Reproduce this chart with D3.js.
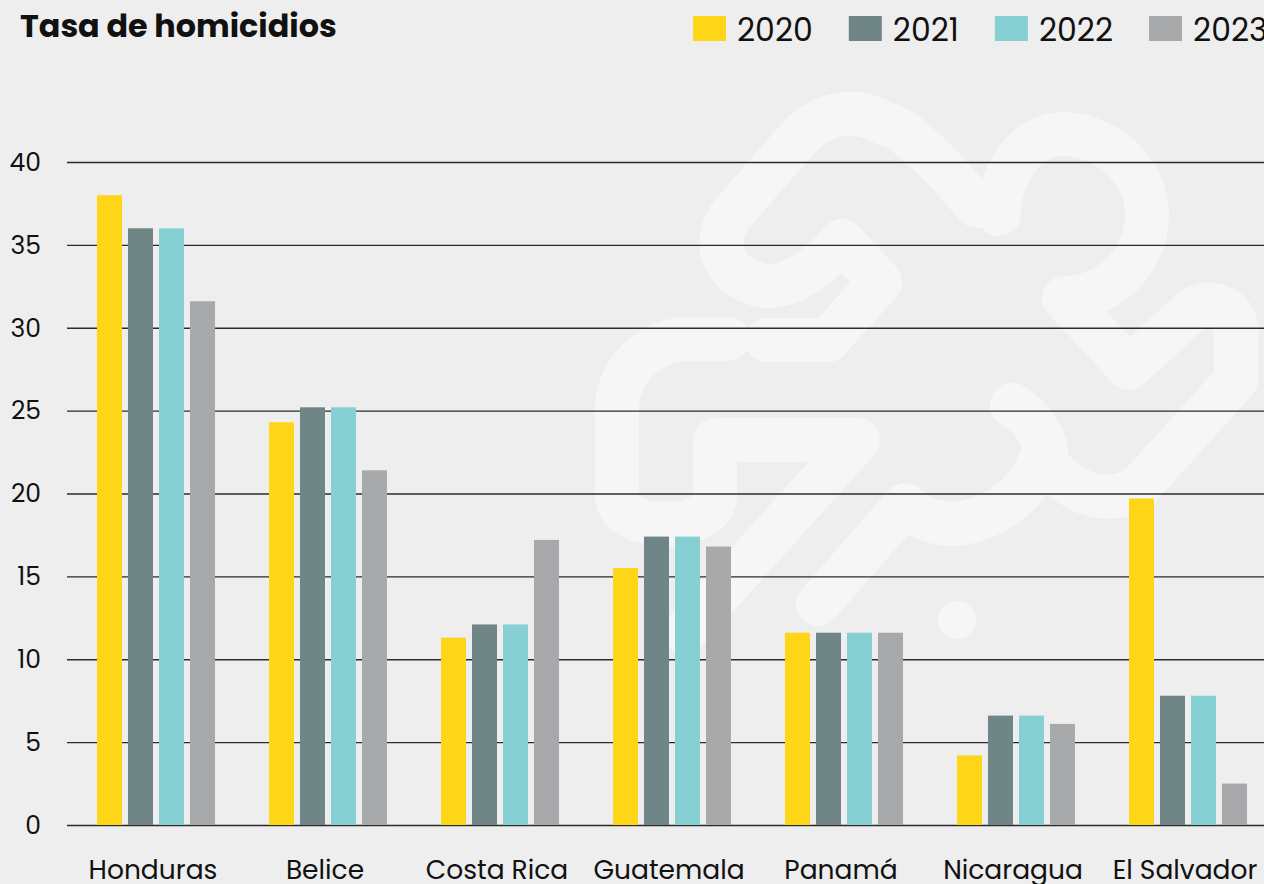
<!DOCTYPE html>
<html>
<head>
<meta charset="utf-8">
<script src="https://cdn.jsdelivr.net/npm/d3@7"></script>
<style>
  html, body { margin: 0; padding: 0; background: #eeeeee; overflow: hidden; }
  svg { display: block; }
</style>
</head>
<body>
<div id="chart"></div>
<script>
// data
const countries = ["Honduras", "Belice", "Costa Rica", "Guatemala", "Panamá", "Nicaragua", "El Salvador"];
const years = ["2020", "2021", "2022", "2023"];
const values2020 = [38.0, 24.3, 11.3, 15.5, 11.6, 4.2, 19.7];
const values2021 = [36.0, 25.2, 12.1, 17.4, 11.6, 6.6, 7.8];
const values2022 = [36.0, 25.2, 12.1, 17.4, 11.6, 6.6, 7.8];
const values2023 = [31.6, 21.4, 17.2, 16.8, 11.6, 6.1, 2.5];
const yTicks = [0, 5, 10, 15, 20, 25, 30, 35, 40];
const colors = ["#FFD617", "#6F8586", "#86D0D4", "#A8A9AB"];

const series = [values2020, values2021, values2022, values2023];
const data = countries.map((c, i) => {
    const row = { country: c };
    years.forEach((y, j) => row[y] = series[j][i]);
    return row;
});

const W = 1264, H = 884;
const font = "Poppins, 'Open Sans', sans-serif";

const svg = d3.select("#chart").append("svg")
    .attr("width", W)
    .attr("height", H);

svg.append("rect").attr("width", W).attr("height", H).attr("fill", "#eeeeee");

// faint logo watermark in the background
const wm = svg.append("g")
    .attr("fill", "none")
    .attr("stroke", "#f6f6f6")
    .attr("stroke-width", 44)
    .attr("stroke-linecap", "round")
    .attr("stroke-linejoin", "round");
const wmPaths = [
    "M977,206 C950,175 905,125 885,124 C860,108 825,110 800,136 L732,214 C712,240 720,275 760,285 C790,292 820,265 842,241 L880,282 L828,340 L767,340",
    "M999,214 C999,170 1030,134 1062,134 C1105,134 1147,170 1147,214 C1147,260 1110,298 1064,298 L1129,368 L1190,312 C1210,295 1240,310 1236,335 L1236,380 L1140,486 C1105,510 1070,490 1046,463 C1050,440 1030,415 1012,405",
    "M728,339 L689,339 C650,339 617,370 617,410 L617,495 C617,515 640,524 667,524 C690,524 715,515 715,495 L715,440 L858,440 L685,632",
    "M818,604 L905,505 C920,520 945,528 968,522 C1000,515 1030,490 1040,460"
];
wm.selectAll("path").data(wmPaths).join("path").attr("d", d => d);
svg.append("circle").attr("cx", 957).attr("cy", 620).attr("r", 19).attr("fill", "#f6f6f6");

// scales
const y = d3.scaleLinear().domain([0, 40]).range([825, 162]);
const x0 = d3.scaleBand().domain(countries).range([70, 1274]).padding(0);
const groupW = 118;
const x1 = d3.scaleBand().domain(years)
    .range([(x0.bandwidth() - groupW) / 2, (x0.bandwidth() + groupW) / 2])
    .paddingInner(0.194).paddingOuter(0);
const color = d3.scaleOrdinal().domain(years).range(colors);

// grid lines + y labels
const yAxis = svg.append("g")
    .attr("transform", "translate(67,0)")
    .call(d3.axisRight(y).tickValues(yTicks).tickSize(W - 67).tickFormat(""));
yAxis.select(".domain").remove();
yAxis.selectAll(".tick line").attr("stroke", "#2b2b2b").attr("stroke-width", 1.3);

svg.append("g").selectAll("text")
    .data(yTicks)
    .join("text")
    .attr("x", 41)
    .attr("y", d => y(d))
    .attr("dy", "0.35em")
    .attr("text-anchor", "end")
    .attr("font-family", font)
    .attr("font-size", 25)
    .attr("fill", "#111")
    .text(d => d);

// bars
svg.append("g")
    .selectAll("g")
    .data(data)
    .join("g")
    .attr("transform", d => `translate(${x0(d.country)},0)`)
    .selectAll("rect")
    .data(d => years.map(k => ({ key: k, value: d[k] })))
    .join("rect")
    .attr("x", d => x1(d.key))
    .attr("y", d => y(d.value))
    .attr("width", x1.bandwidth())
    .attr("height", d => y(0) - y(d.value))
    .attr("fill", d => color(d.key));

// category labels
svg.append("g").selectAll("text")
    .data(countries)
    .join("text")
    .attr("x", d => x0(d) + x0.bandwidth() / 2 - 3)
    .attr("y", 879)
    .attr("text-anchor", "middle")
    .attr("font-family", font)
    .attr("font-size", 26.5)
    .attr("fill", "#111")
    .text(d => d);

// title
svg.append("text")
    .attr("x", 20)
    .attr("y", 37)
    .attr("font-family", font)
    .attr("font-weight", "bold")
    .attr("font-size", 31.8)
    .attr("fill", "#111")
    .text("Tasa de homicidios");

// legend
let lx = 693;
years.forEach(yr => {
    const g = svg.append("g").attr("transform", `translate(${lx},0)`);
    g.append("rect")
        .attr("x", 0).attr("y", 16)
        .attr("width", 33).attr("height", 25)
        .attr("fill", color(yr));
    const t = g.append("text")
        .attr("x", 44)
        .attr("y", 41)
        .attr("font-family", font)
        .attr("font-size", 31.5)
        .attr("fill", "#111")
        .text(yr);
    lx += 44 + t.node().getComputedTextLength() + 36;
});
</script>
</body>
</html>
